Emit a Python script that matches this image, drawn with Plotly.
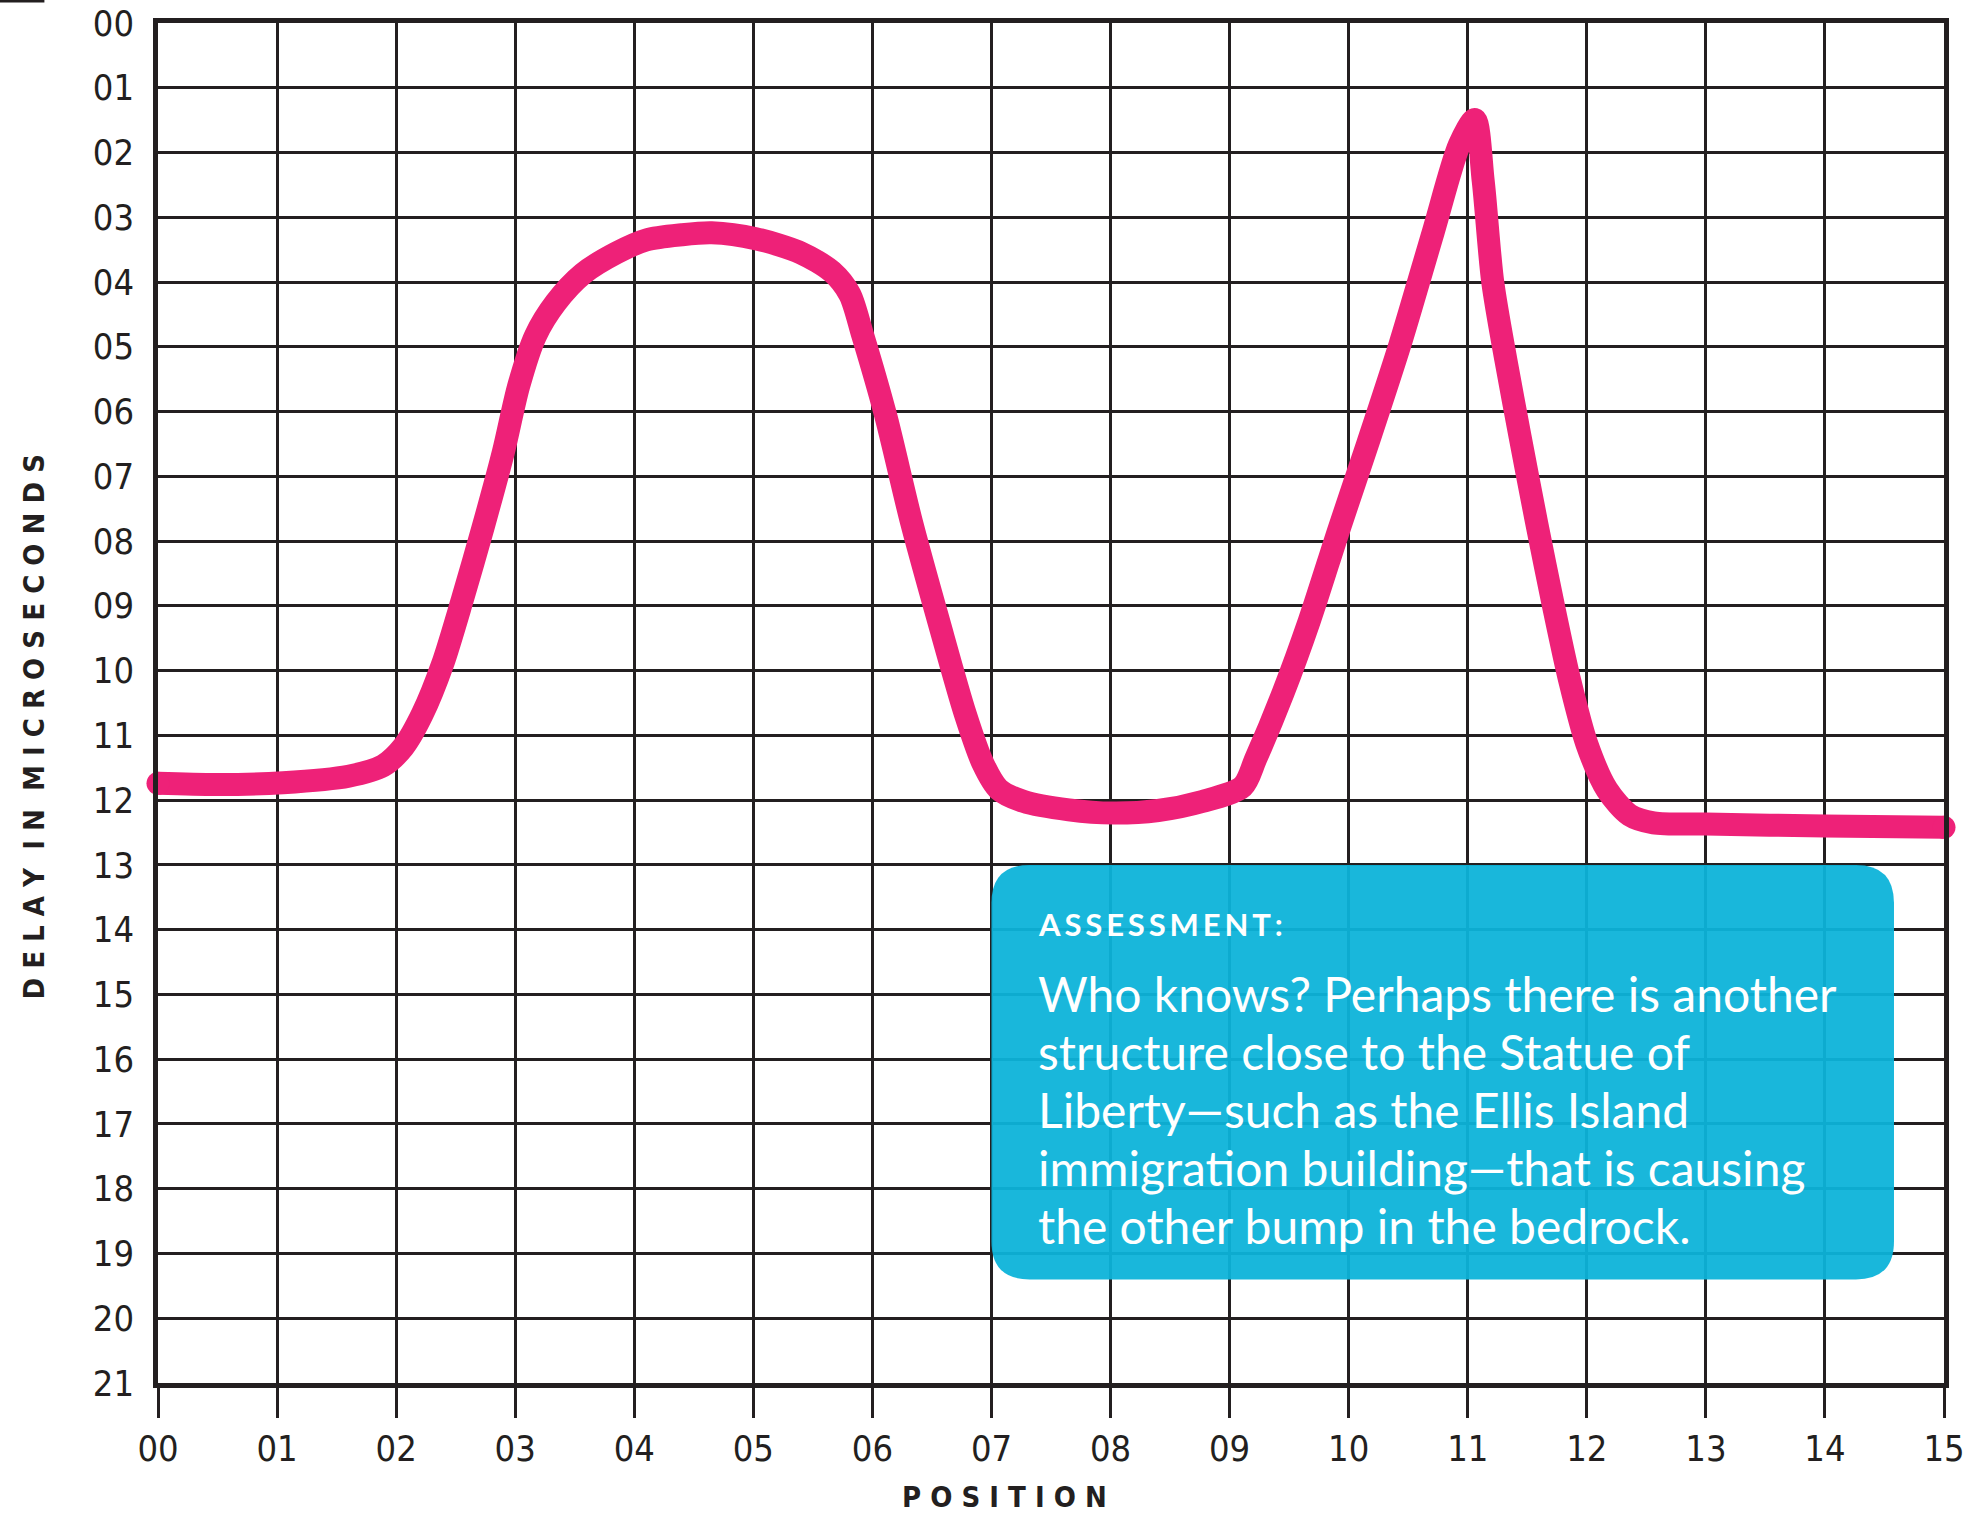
import plotly.graph_objects as go

# ---- data ----
position = [0, 0.5, 1.05, 1.6, 1.89, 2.06, 2.22, 2.39, 2.56, 2.73, 2.9, 3.03, 3.17, 3.34, 3.57,
            3.85, 4.1, 4.4, 4.65, 5.02, 5.4, 5.66, 5.81, 5.92, 6.11, 6.33, 6.56, 6.78, 6.93,
            7.06, 7.27, 7.65, 8.02, 8.4, 8.77, 9.11, 9.22, 9.45, 9.67, 9.92, 10.15, 10.43,
            10.71, 10.93, 11.06, 11.13, 11.21, 11.32, 11.44, 11.58, 11.72, 11.86, 12.0,
            12.17, 12.36, 12.56, 13.0, 14.0, 15.0]
delay = [11.74, 11.76, 11.73, 11.63, 11.47, 11.18, 10.67, 9.9, 8.88, 7.79, 6.63, 5.6, 4.83,
         4.32, 3.87, 3.55, 3.35, 3.27, 3.24, 3.33, 3.55, 3.84, 4.19, 4.83, 6.05, 7.72, 9.26,
         10.67, 11.44, 11.83, 12.02, 12.15, 12.2, 12.16, 12.02, 11.79, 11.36, 10.34, 9.23,
         7.81, 6.55, 4.97, 3.23, 1.88, 1.49, 2.44, 4.0, 5.2, 6.39, 7.73, 9.0, 10.18, 11.13,
         11.84, 12.23, 12.35, 12.37, 12.4, 12.42]

x_ticks = list(range(0, 16))
x_tick_labels = ["%02d" % v for v in x_ticks]
y_ticks = list(range(0, 22))
y_tick_labels = ["%02d" % v for v in y_ticks]

x_title = "POSITION"
y_title = "DELAY IN MICROSECONDS"
box_heading = "ASSESSMENT:"
box_lines = [
    "Who knows? Perhaps there is another",
    "structure close to the Statue of",
    "Liberty\u2014such as the Ellis Island",
    "immigration building\u2014that is causing",
    "the other bump in the bedrock.",
]

# ---- style ----
INK = "#231f20"
PINK = "#ee2178"
CYAN = "#0db3d9"
NARROW = "Liberation Sans Narrow, DejaVu Sans Condensed, Arial Narrow, sans-serif"
BODY = "Lato, Open Sans, sans-serif"
LW = 23


def spaced(s, gap="\u00a0", word_gap="\u00a0\u00a0"):
    words = s.split(" ")
    return word_gap.join(gap.join(list(w)) for w in words)


fig = go.Figure()
fig.add_trace(go.Scatter(x=position, y=delay, mode="lines",
                         line=dict(color=PINK, width=LW, shape="spline", smoothing=0.8),
                         hoverinfo="skip", showlegend=False))
# round end caps
fig.add_trace(go.Scatter(x=[position[0], position[-1]], y=[delay[0], delay[-1]],
                         mode="markers", marker=dict(color=PINK, size=LW, line=dict(width=0)),
                         hoverinfo="skip", showlegend=False, cliponaxis=False))

# rounded box
x0, x1, y0, y1 = 7.0, 14.58, 13.0, 19.4
rx, ry = 0.32, 0.59
path = (f"M {x0+rx},{y0} L {x1-rx},{y0} Q {x1},{y0} {x1},{y0+ry} "
        f"L {x1},{y1-ry} Q {x1},{y1} {x1-rx},{y1} L {x0+rx},{y1} "
        f"Q {x0},{y1} {x0},{y1-ry} L {x0},{y0+ry} Q {x0},{y0} {x0+rx},{y0} Z")
shapes = [
    dict(type="path", path=path, xref="x", yref="y", fillcolor=CYAN,
         opacity=0.95, line=dict(width=0), layer="above"),
    dict(type="line", xref="paper", yref="paper", x0=-0.0888, x1=-0.0636,
         y0=1.0162, y1=1.0162, line=dict(color=INK, width=3)),
]

annotations = []
annotations.append(dict(x=7.37, y=13.92, xref="x", yref="y", xanchor="left", yanchor="middle",
                        text="<b>" + "\u2009".join(list(box_heading)) + "</b>", showarrow=False,
                        font=dict(family=BODY, size=31, color="white")))
for i, line in enumerate(box_lines):
    annotations.append(dict(x=7.37, y=14.99 + i * 0.894, xref="x", yref="y",
                            xanchor="left", yanchor="middle", text=line, showarrow=False,
                            font=dict(family=BODY, size=48, color="white")))
annotations.append(dict(x=0.474, y=-0.0838, xref="paper", yref="paper",
                        xanchor="center", yanchor="middle", text="<b>" + spaced(x_title) + "</b>",
                        showarrow=False, font=dict(family=NARROW, size=29, color=INK)))
annotations.append(dict(x=-0.0692, y=0.483, xref="paper", yref="paper", textangle=-90,
                        xanchor="center", yanchor="middle", text="<b>" + spaced(y_title) + "</b>",
                        showarrow=False, font=dict(family=NARROW, size=29, color=INK)))

fig.update_layout(
    width=1975, height=1518,
    margin=dict(l=158, r=31, t=23, b=135, autoexpand=False),
    plot_bgcolor="white", paper_bgcolor="white",
    annotations=annotations,
    shapes=shapes,
    xaxis=dict(range=[0, 15], tickvals=x_ticks, ticktext=x_tick_labels,
               showgrid=True, gridcolor=INK, gridwidth=2.5,
               showline=True, linecolor=INK, linewidth=4.5, mirror=True,
               ticks="outside", ticklen=30, tickwidth=2.5, tickcolor=INK,
               tickfont=dict(family=NARROW, size=36, color=INK), zeroline=False,
               automargin=False, fixedrange=True),
    yaxis=dict(range=[21, 0], tickvals=y_ticks, ticktext=y_tick_labels,
               showgrid=True, gridcolor=INK, gridwidth=2.5,
               showline=True, linecolor=INK, linewidth=4.5, mirror=True,
               ticks="", ticklabelstandoff=12,
               tickfont=dict(family=NARROW, size=36, color=INK), zeroline=False,
               automargin=False, fixedrange=True),
)

fig.write_html("out.html", config={"displayModeBar": False},
               post_script="document.body.style.margin='0';")
